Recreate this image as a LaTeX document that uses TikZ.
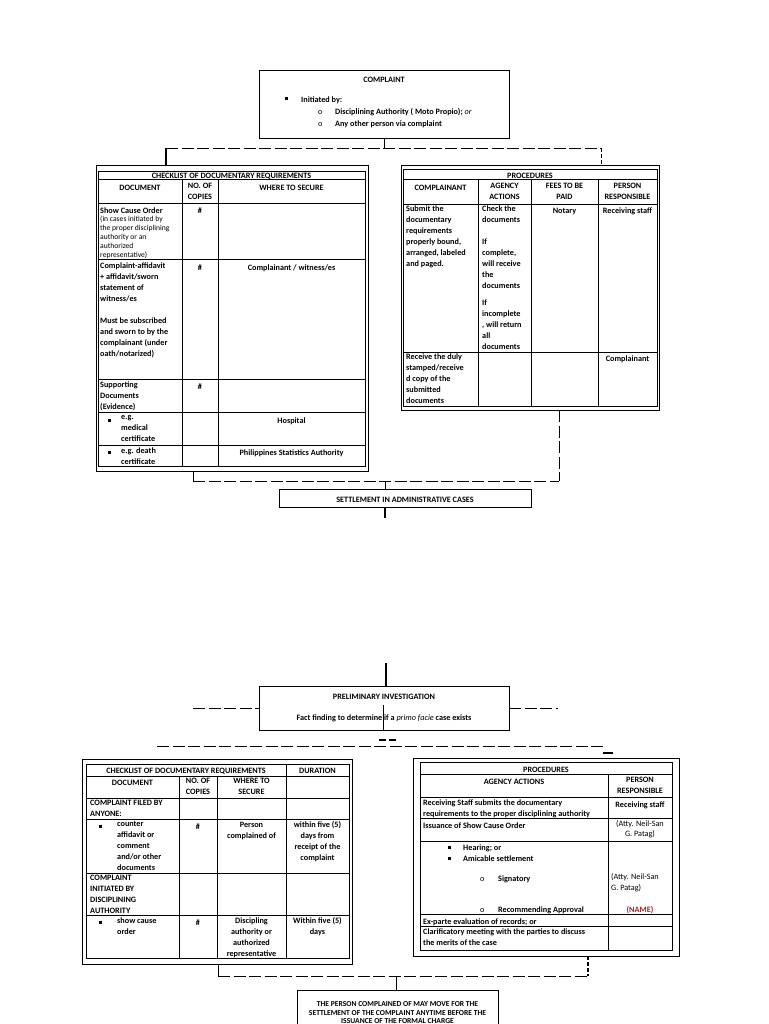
\documentclass[tikz,border=0pt]{standalone}
\usepackage{fontspec}
\setmainfont{Carlito}
\usetikzlibrary{fit}
\newcommand\cf{\fontsize{8.2}{11}\selectfont\bfseries}
\newcommand\nf{\fontsize{8.2}{11}\selectfont\mdseries}
\newcommand\nfs{\fontsize{8.2}{10}\selectfont\mdseries}
\newcommand\smf{\fontsize{7.6}{9}\selectfont\mdseries}
\newcommand\bxf{\fontsize{7.6}{8.5}\selectfont\bfseries}
\definecolor{nm}{RGB}{170,30,40}
\tikzset{
  frame/.style={draw, line width=0.8pt, inner sep=0pt},
  grid/.style={line width=0.75pt},
  tl/.style={anchor=north west, yshift=3.5pt, inner sep=0pt, align=left, font=\cf, execute at begin node=\strut},
  tc/.style={anchor=north, yshift=3.5pt, inner sep=0pt, align=center, font=\cf, execute at begin node=\strut},
  ts/.style={anchor=north west, yshift=3pt, inner sep=0pt, align=left, font=\smf, execute at begin node=\strut},
  dl/.style={line width=0.7pt, dash pattern=on 12pt off 3.5pt},
  dls/.style={line width=0.9pt, dash pattern=on 4pt off 2pt},
  stub/.style={line width=1.4pt},
  thin/.style={line width=0.8pt},
  bul/.style={fill, inner sep=0pt, minimum width=3pt, minimum height=3pt},
}
\begin{document}
\begin{tikzpicture}[x=1pt,y=-1pt]
\fill[white] (0,0) rectangle (768,1024);
\useasboundingbox (0,0) rectangle (768,1024);

% ---------- COMPLAINT ----------
\node[frame, fit={(259,70) (509,138)}] (complaint) {};
\node[tc] (cT) at (384,78) {COMPLAINT};
\node[bul] (cb1) at (286,99) {};
\node[tl] (c1) at (301,98) {Initiated by:};
\node[tl, font=\nf] (co1) at (318,110) {o};
\node[tl] (c2) at (335,110) {Disciplining Authority ( Moto Propio); {\mdseries\itshape or}};
\node[tl, font=\nf] (co2) at (318,122) {o};
\node[tl] (c3) at (335,122) {Any other person via complaint};

% ---------- top left table ----------
\node[frame, fit={(96,165) (368,471)}] (lt) {};
\draw[grid] (98,171) rectangle (365,466);
\foreach \yy in {179,203,259,379,412,445} \draw[grid] (98,\yy) -- (365,\yy);
\foreach \xx in {182,218} \draw[grid] (\xx,179) -- (\xx,466);
\node[tc] (ltT) at (231.5,174.5) {CHECKLIST OF DOCUMENTARY REQUIREMENTS};
\node[tc] (ltH1) at (140,186) {DOCUMENT};
\node[tc] (ltH2) at (200,186) {NO. OF\\COPIES};
\node[tc] (ltH3) at (291.5,186) {WHERE TO SECURE};
\node[tl] (lt1a) at (100,209) {Show Cause Order};
\node[ts] (lt1b) at (100,218.5) {(in cases initiated by\\the proper disciplining\\authority or an\\authorized\\representative)};
\node[tc] (lt1c) at (200,209) {\#};
\node[tl] (lt2a) at (100,266) {Complaint-affidavit\\+ affidavit/sworn\\statement of\\witness/es\\[11pt]Must be subscribed\\and sworn to by the\\complainant (under\\oath/notarized)};
\node[tc] (lt2b) at (200,266) {\#};
\node[tc] (lt2c) at (291.5,266) {Complainant / witness/es};
\node[tl] (lt3a) at (100,385) {Supporting\\Documents\\(Evidence)};
\node[tc] (lt3b) at (200,385) {\#};
\node[bul] (lt4b) at (109,420) {};
\node[tl] (lt4a) at (121,419) {e.g.\\medical\\certificate};
\node[tc] (lt4c) at (291.5,419) {Hospital};
\node[bul] (lt5b) at (109,452) {};
\node[tl] (lt5a) at (121,451) {e.g. death\\certificate};
\node[tc] (lt5c) at (291.5,451) {Philippines Statistics Authority};

% ---------- top right table ----------
\node[frame, fit={(401,165) (659,410)}] (rt) {};
\draw[grid] (403,169) rectangle (657,406);
\foreach \yy in {179,204,352} \draw[grid] (403,\yy) -- (657,\yy);
\foreach \xx in {478,531,598} \draw[grid] (\xx,179) -- (\xx,406);
\node[tc] (rtT) at (530,174) {PROCEDURES};
\node[tc] (rtH1) at (440.5,186) {COMPLAINANT};
\node[tc] (rtH2) at (504.5,186) {AGENCY\\ACTIONS};
\node[tc] (rtH3) at (564.5,186) {FEES TO BE\\PAID};
\node[tc] (rtH4) at (627.5,186) {PERSON\\RESPONSIBLE};
\node[tl] (rt1a) at (406,209) {Submit the\\documentary\\requirements\\properly bound,\\arranged, labeled\\and paged.};
\node[tl] (rt1b) at (482,209) {Check the\\documents\\[11pt]If\\complete,\\will receive\\the\\documents\\[6pt]If\\incomplete\\, will return\\all\\documents};
\node[tc] (rt1c) at (564.5,209) {Notary};
\node[tc] (rt1d) at (627.5,209) {Receiving staff};
\node[tl] (rt2a) at (406,357.5) {Receive the duly\\stamped/receive\\d copy of the\\submitted\\documents};
\node[tc] (rt2d) at (627.5,357.5) {Complainant};

% ---------- top connectors ----------
\coordinate (j1) at (384,148);
\coordinate (jL) at (166,148);
\coordinate (jR) at (601,148);
\draw[stub, line width=1pt] (complaint.south) -- (j1);
\draw[dl] (jL) -- (jR);
\draw[stub] (jL) -- (jL |- lt.north);
\draw[dls] (jR) -- (jR |- rt.north);

% ---------- settlement ----------
\node[frame, fit={(279,489) (531,507)}] (settle) {};
\node[tc] (setT) at (405,498) {SETTLEMENT IN ADMINISTRATIVE CASES};
\coordinate (k1) at (385,481);
\coordinate (kL) at (193,481);
\coordinate (kR) at (559,481);
\coordinate (kE) at (385,518);
\draw[thin] (kL |- lt.south) -- (kL);
\draw[dl] (kL) -- (kR);
\draw[dl] (kR |- rt.south) -- (kR);
\draw[thin] (k1) -- (k1 |- settle.north);
\draw[stub] (k1 |- settle.south) -- (kE);

% ---------- preliminary investigation ----------
\node[frame, fit={(259,686) (509,730)}] (prelim) {};
\node[tc] (pT) at (384,695) {PRELIMINARY INVESTIGATION};
\node[tc] (pF) at (384,716) {Fact finding to determine if a {\mdseries\itshape primo facie} case exists};
\coordinate (p0) at (386,663);
\draw[stub] (p0) -- (p0 |- prelim.north);
\draw[thin] (383,705) -- (383,730);
\coordinate (pL) at (193,708);
\coordinate (pR) at (558,708);
\draw[dl] (pL) -- (pL -| prelim.west);
\draw[dl] (pR -| prelim.east) -- (pR);
\coordinate (q1) at (379,740);
\coordinate (q2) at (397,740);
\draw[line width=1.1pt, dash pattern=on 7pt off 3pt] (q1) -- (q2);
\coordinate (m1) at (157,746);
\coordinate (m2) at (606,746);
\draw[dl] (m1) -- (m2);
\coordinate (s1) at (603,753);
\coordinate (s2) at (613,753);
\draw[stub] (s1) -- (s2);

% ---------- lower left table ----------
\node[frame, fit={(82,759) (352,964)}] (llt) {};
\draw[grid] (86,764) rectangle (349,958);
\foreach \yy in {776,798,819,873,915} \draw[grid] (86,\yy) -- (349,\yy);
\foreach \xx in {179,217} \draw[grid] (\xx,776) -- (\xx,958);
\draw[grid] (286,764) -- (286,958);
\node[tc] (llT) at (186,769.5) {CHECKLIST OF DOCUMENTARY REQUIREMENTS};
\node[tc] (llT2) at (317.5,769.5) {DURATION};
\node[tc] (llH1) at (132.5,781) {DOCUMENT};
\node[tc] (llH2) at (198,781) {NO. OF\\COPIES};
\node[tc] (llH3) at (251.5,781) {WHERE TO\\SECURE};
\node[tl] (llA) at (90,803) {COMPLAINT FILED BY\\ANYONE:};
\node[bul] (llBb) at (100,826) {};
\node[tl] (llB1) at (117,825) {counter\\affidavit or\\comment\\and/or other\\documents};
\node[tc] (llB2) at (198,825) {\#};
\node[tc] (llB3) at (251.5,825) {Person\\complained of};
\node[tc] (llB4) at (317.5,825) {within five (5)\\days from\\receipt of the\\complaint};
\node[tl] (llC) at (90,878) {COMPLAINT\\INITIATED BY\\DISCIPLINING\\AUTHORITY};
\node[bul] (llDb) at (100,922) {};
\node[tl] (llD1) at (117,921) {show cause\\order};
\node[tc] (llD2) at (198,921) {\#};
\node[tc] (llD3) at (251.5,921) {Discipling\\authority or\\authorized\\representative};
\node[tc] (llD4) at (317.5,921) {Within five (5)\\days};

% ---------- lower right table ----------
\node[frame, fit={(413,758) (679,956)}] (lrt) {};
\draw[grid] (420,762) rectangle (672,950);
\foreach \yy in {774,797,818,841,914,926} \draw[grid] (420,\yy) -- (672,\yy);
\draw[grid] (608,774) -- (608,950);
\node[tc] (lrT) at (546,768) {PROCEDURES};
\node[tc] (lrH1) at (514,780) {AGENCY ACTIONS};
\node[tc] (lrH2) at (640,780) {PERSON\\RESPONSIBLE};
\node[tl] (lr1) at (423,803) {Receiving Staff submits the documentary\\requirements to the proper disciplining authority};
\node[tc] (lr1p) at (640,803) {Receiving staff};
\node[tl] (lr2) at (423,824) {Issuance of Show Cause Order};
\node[tc, font=\nfs] (lr2p) at (640,824) {(Atty. Neil-San\\G. Patag)};
\node[bul] (lr3b1) at (449,847) {};
\node[tl] (lr3a) at (463,846) {Hearing; or};
\node[bul] (lr3b2) at (449,858) {};
\node[tl] (lr3c) at (463,857) {Amicable settlement};
\node[tl, font=\nf] (lr3o1) at (480,877) {o};
\node[tl] (lr3d) at (498,877) {Signatory};
\node[tl, font=\nf] (lr3p) at (611,877) {(Atty. Neil-San\\G. Patag)};
\node[tl, font=\nf] (lr3o2) at (480,908) {o};
\node[tl] (lr3e) at (498,908) {Recommending Approval};
\node[tc, text=nm] (lr3n) at (640,908) {(NAME)};
\node[tl] (lr4) at (423,920) {Ex-parte evaluation of records; or};
\node[tl] (lr5) at (423,932) {Clarificatory meeting with the parties to discuss\\the merits of the case};

% ---------- bottom ----------
\node[frame, fit={(297,990) (498,1032)}] (final) {};
\node[anchor=north, align=center, font=\bxf, inner sep=0pt, yshift=2.5pt, execute at begin node=\strut] (fT) at (397.5,1004) {THE PERSON COMPLAINED OF MAY MOVE FOR THE\\SETTLEMENT OF THE COMPLAINT ANYTIME BEFORE THE\\ISSUANCE OF THE FORMAL CHARGE};
\coordinate (bL) at (218,976);
\coordinate (bR) at (588,976);
\coordinate (bC) at (396,976);
\draw[thin] (bL |- llt.south) -- (bL);
\draw[dl] (bL) -- (bR);
\draw[dls, line width=1.2pt] (bR |- lrt.south) -- (bR);
\draw[thin] (bC) -- (bC |- final.north);
\end{tikzpicture}
\end{document}
